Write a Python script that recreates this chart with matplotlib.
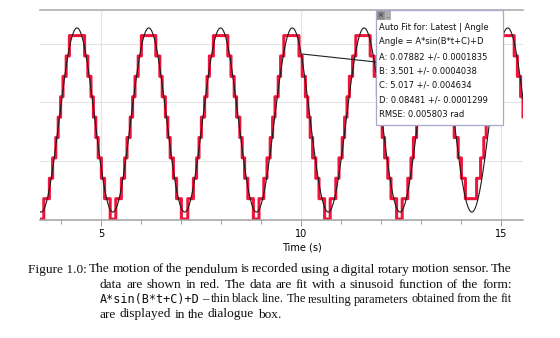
import numpy as np
import matplotlib
matplotlib.use("Agg")
import matplotlib.pyplot as plt
from matplotlib.patches import Rectangle
from matplotlib.lines import Line2D

# fit parameters shown in the dialogue box
fit_A = 0.07882
fit_B = 3.501
fit_C = 5.017
fit_D = 0.08481

# rotary sensor readings (whole degrees), one every 0.02 s from t = 3.44 s
t0 = 3.44
dt = 0.02
readings = [int(c) for c in (
    "00000001111111222233334445556667777888899999999999999999998888777766655544433332222111111100000001111111222233344445556667777888899999999999999999988888777666655544433332222111111000000001111111222233344455556667778888899999999999999999988887777666555544433322221111111000000011111122223333444555666677788889999999999999999999888877776665554443333222211111110000000111111122223333444555666777788889999999999999999998888877776665554443333222211111110000000111111122223334444555666777788889999999999999999998888877766665554444433332222211111111111111222223333444555556666777888889999999999999999998888777766655"
)]

box_lines = [
    "Auto Fit for: Latest | Angle",
    "Angle = A*sin(B*t+C)+D",
    "A: 0.07882 +/- 0.0001835",
    "B: 3.501 +/- 0.0004038",
    "C: 5.017 +/- 0.004634",
    "D: 0.08481 +/- 0.0001299",
    "RMSE: 0.005803 rad",
]

W, H = 560, 338

def fx(x):
    return x / W

def fy(y):
    return 1 - y / H

t = t0 + dt * np.arange(len(readings))
tt = np.linspace(3.4, 15.6, 2000)

fig = plt.figure(figsize=(W / 100, H / 100), dpi=100)
ax = fig.add_axes([fx(40), 1 - 220 / H, 483 / W, 210 / H])

ax.plot(t, np.radians(readings), color="#f0143c", lw=2.2, drawstyle="steps-mid", zorder=2)
ax.plot(tt, fit_A * np.sin(fit_B * tt + fit_C) + fit_D, color="#1a1a1a", lw=0.8, zorder=3)

ax.set_xlim(3.475, 15.55)
ax.set_ylim(-0.0008, 0.1790)
ax.set_xticks([5, 10, 15])
ax.set_xticks(np.arange(4, 16), minor=True)
ax.set_yticks([0.05, 0.10, 0.15])
ax.grid(True, color="#e4e4e4", lw=0.8)
ax.tick_params(axis="y", left=False, labelleft=False)
ax.tick_params(axis="x", which="major", length=4.3, width=0.7, color="#999999",
               labelsize=7, pad=2)
ax.tick_params(axis="x", which="minor", length=2.9, width=0.7, color="#999999")
for s in ["left", "right"]:
    ax.spines[s].set_visible(False)
ax.spines["bottom"].set_color("#a0a0a0")
ax.spines["bottom"].set_linewidth(1.1)
ax.spines["top"].set_color("#a8a8a8")
ax.spines["top"].set_linewidth(1.1)
ax.spines["bottom"].set_zorder(4)

fig.text(fx(302), fy(248), "Time (s)", fontsize=7, ha="center", va="center")

# dialogue box with its pointer line
fig.lines.append(Line2D([fx(302), fx(376)], [fy(54), fy(62)], color="#222222",
                        lw=0.8, transform=fig.transFigure, zorder=5))
fig.patches.append(Rectangle((fx(376), fy(125)), 127 / W, 115 / H, facecolor="white",
                             edgecolor="#a8a8cc", lw=0.9, transform=fig.transFigure, zorder=6))
fig.patches.append(Rectangle((fx(376.5), fy(18.5)), 7 / W, 7.5 / H, facecolor="#8a8a8a",
                             edgecolor="#777777", lw=0.4, transform=fig.transFigure, zorder=7))
fig.patches.append(Rectangle((fx(384), fy(18.5)), 6 / W, 7.5 / H, facecolor="#b0b0b0",
                             edgecolor="#909090", lw=0.4, transform=fig.transFigure, zorder=7))
fig.text(fx(380), fy(14.8), "×", fontsize=5, ha="center", va="center", color="#333333", zorder=8)
fig.text(fx(387), fy(15.5), "_", fontsize=4, ha="center", va="center", color="#333333", zorder=8)

box_y = [27, 42, 56.5, 71, 85.5, 100, 114.5]
for s, yy in zip(box_lines, box_y):
    fig.text(fx(379), fy(yy), s, fontsize=6, ha="left", va="center", color="#111111", zorder=8)

# caption, justified by hand
serif = "Liberation Serif"
mono = "DejaVu Sans Mono"
renderer = fig.canvas.get_renderer()

def put_line(tokens, x0, x1, ybase, fs, justify=True):
    texts = []
    for w, fam in tokens:
        texts.append(fig.text(0, 0, w, fontfamily=fam, fontsize=fs - 0.5 if fam == mono else fs,
                              va="baseline", ha="left", color="#111111"))
    widths = [tx.get_window_extent(renderer).width for tx in texts]
    space = fs * 100 / 72 * 0.25
    if justify and len(texts) > 1:
        gap = max(1.5, (x1 - x0 - sum(widths)) / (len(texts) - 1))
    else:
        gap = space
    x = x0
    for tx, w in zip(texts, widths):
        tx.set_position((fx(x), fy(ybase)))
        x += w + gap

def words(s, fam=serif):
    return [(w, fam) for w in s.split()]

put_line([("Figure 1.0:", serif)] +
         words("The motion of the pendulum is recorded using a digital rotary motion sensor. The"),
         28, 512, 272.5, 9.6)
put_line(words("data are shown in red. The data are fit with a sinusoid function of the form:"),
         100, 512, 287.5, 9.6)
put_line([("A*sin(B*t+C)+D", mono)] + words("– thin black line. The resulting parameters obtained from the fit"),
         100, 512, 302.5, 9.0)
put_line(words("are displayed in the dialogue box."), 100, 512, 317.5, 9.6, justify=False)

fig.savefig("out.png", dpi=100)
